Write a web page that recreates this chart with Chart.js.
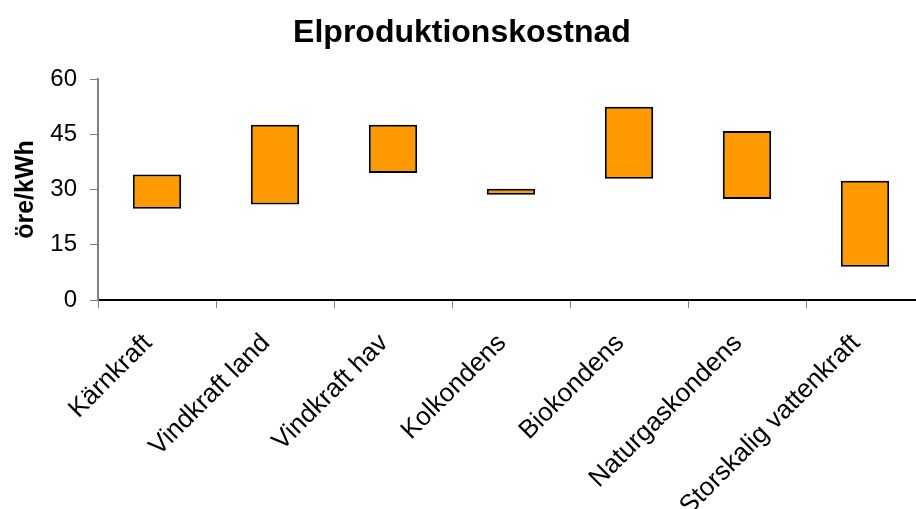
<!DOCTYPE html>
<html>
<head>
<meta charset="utf-8">
<script src="https://cdn.jsdelivr.net/npm/chart.js@4"></script>
<style>
  html, body { margin: 0; padding: 0; background: #fff; overflow: hidden; }
  #wrap { position: relative; width: 924px; height: 509px; }
</style>
</head>
<body>
<div id="wrap"><canvas id="cost-chart"></canvas></div>
<script>
const categories = ['Kärnkraft', 'Vindkraft land', 'Vindkraft hav', 'Kolkondens', 'Biokondens', 'Naturgaskondens', 'Storskalig vattenkraft'];
const lowCost = [24.8, 25.9, 34.5, 28.6, 32.9, 27.4, 9.0];
const highCost = [34.1, 47.6, 47.6, 30.2, 52.5, 45.9, 32.4];
const yTicks = [0, 15, 30, 45, 60];

const font = "'Liberation Sans', Arial, sans-serif";
Chart.defaults.font.family = font;
Chart.defaults.color = '#000';

const ctx = document.getElementById('cost-chart').getContext('2d');
const chart = new Chart(ctx, {
  type: 'bar',
  data: {
    labels: categories,
    datasets: [
      {
        label: 'öre/kWh',
        data: categories.map((c, i) => [lowCost[i], highCost[i]]),
        backgroundColor: '#FF9900',
        borderColor: '#000',
        borderWidth: 2,
        borderSkipped: false,
        categoryPercentage: 1,
        barPercentage: 0.41,
      },
    ],
  },
  options: {
    responsive: true,
    maintainAspectRatio: false,
    animation: false,
    layout: { padding: 0 },
    plugins: {
      legend: { display: false },
      tooltip: { enabled: false },
      title: {
        display: true,
        text: 'Elproduktionskostnad',
        font: { size: 32, weight: 'bold', lineHeight: 1.2 },
        color: '#000',
        padding: { top: 14, bottom: 26.6 },
      },
    },
    scales: {
      x: {
        offset: true,
        grid: {
          offset: true,
          drawOnChartArea: false,
          drawTicks: true,
          tickLength: 8,
          color: '#808080',
        },
        border: { display: true, color: '#000', width: 2 },
        ticks: {
          font: { size: 26 },
          color: '#000',
          minRotation: 45,
          maxRotation: 45,
          autoSkip: false,
          padding: 20,
          labelOffset: -9,
        },
        afterFit: (scale) => { scale.height = 209; },
      },
      y: {
        min: 0,
        max: 60,
        afterBuildTicks: (scale) => { scale.ticks = yTicks.map((v) => ({ value: v })); },
        grid: {
          drawOnChartArea: false,
          drawTicks: true,
          tickLength: 8,
          color: '#808080',
        },
        border: { display: true, color: '#808080', width: 2 },
        ticks: {
          font: { size: 24 },
          color: '#000',
          padding: 13,
        },
        title: {
          display: true,
          text: 'öre/kWh',
          font: { size: 25, weight: 'bold', lineHeight: 1.2 },
          color: '#000',
          padding: { top: 11, bottom: 0 },
        },
        afterFit: (scale) => { scale.width = 98; },
      },
    },
  },
});
</script>
</body>
</html>
